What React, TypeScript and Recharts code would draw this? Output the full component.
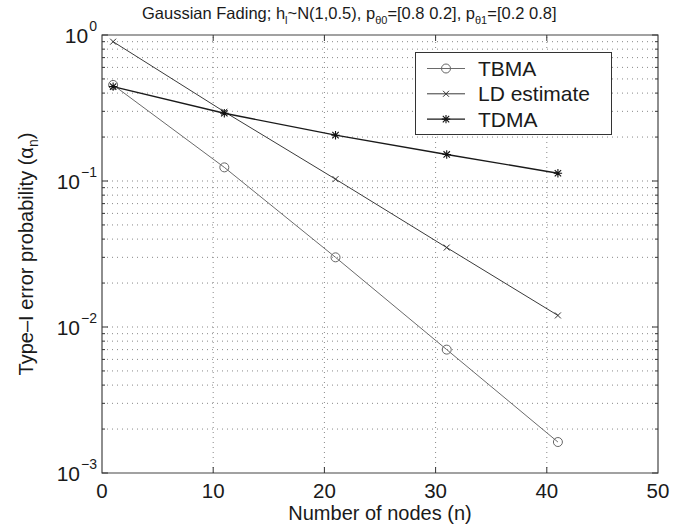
import { Legend, Line, LineChart, ReferenceArea, ReferenceLine, XAxis, YAxis } from "recharts";

// Gaussian fading, type-I error probability vs number of nodes
const nodes = [1, 11, 21, 31, 41];
const tbma = [0.455, 0.124, 0.03, 0.007, 0.00163];
const ldEstimate = [0.9, 0.298, 0.103, 0.035, 0.012];
const tdma = [0.443, 0.291, 0.206, 0.152, 0.113];

const seriesNames = ["TBMA", "LD estimate", "TDMA"];

const xTicks = [0, 10, 20, 30, 40, 50];
const xGrid = [10, 20, 30, 40];
const yMajorTicks = [0.001, 0.01, 0.1, 1];
const yMajorExps = ["\u22123", "\u22122", "\u22121", "0"];
const yMinorTicks = [
  0.002, 0.003, 0.004, 0.005, 0.006, 0.007, 0.008, 0.009,
  0.02, 0.03, 0.04, 0.05, 0.06, 0.07, 0.08, 0.09,
  0.2, 0.3, 0.4, 0.5, 0.6, 0.7, 0.8, 0.9,
];

const data = nodes.map((n, i) => ({ n, tbma: tbma[i], ld: ldEstimate[i], tdma: tdma[i] }));

const W = 696;
const H = 529;
const MARGIN = { top: 35, right: 38, bottom: 6, left: 42 };
const Y_AXIS_W = 60;
const X_AXIS_H = 50;
const PLOT_L = MARGIN.left + Y_AXIS_W; // 102
const PLOT_R = W - MARGIN.right; // 658
const PLOT_T = MARGIN.top; // 35
const PLOT_B = H - MARGIN.bottom - X_AXIS_H; // 473
const FONT = "'Liberation Sans', Arial, Helvetica, sans-serif";
const INK = "#1a1a1a";

function CircleMark({ cx, cy }: { cx: number; cy: number }) {
  return <circle cx={cx} cy={cy} r={4.5} fill="none" stroke="#666" strokeWidth={1} />;
}

function CrossMark({ cx, cy }: { cx: number; cy: number }) {
  const s = 3;
  return (
    <path
      d={`M${cx - s},${cy - s}L${cx + s},${cy + s}M${cx - s},${cy + s}L${cx + s},${cy - s}`}
      stroke="#333"
      strokeWidth={1}
    />
  );
}

function StarMark({ cx, cy }: { cx: number; cy: number }) {
  const s = 3.2;
  const p = 4.2;
  return (
    <path
      d={`M${cx - s},${cy - s}L${cx + s},${cy + s}M${cx - s},${cy + s}L${cx + s},${cy - s}M${cx - p},${cy}L${cx + p},${cy}M${cx},${cy - p}L${cx},${cy + p}`}
      stroke="#111"
      strokeWidth={1.1}
    />
  );
}

const series = [
  { key: "tbma", name: seriesNames[0], stroke: "#6a6a6a", width: 1, Mark: CircleMark },
  { key: "ld", name: seriesNames[1], stroke: "#3a3a3a", width: 1, Mark: CrossMark },
  { key: "tdma", name: seriesNames[2], stroke: "#1a1a1a", width: 1.4, Mark: StarMark },
];

function XTick({ x, payload }: any) {
  const v = payload.value as number;
  const inner = v > 0 && v < 50;
  return (
    <g>
      {inner && <line x1={x} x2={x} y1={PLOT_B} y2={PLOT_B - 6} stroke="#333" />}
      {inner && <line x1={x} x2={x} y1={PLOT_T} y2={PLOT_T + 6} stroke="#333" />}
      <text x={x} y={PLOT_B + 25} textAnchor="middle" fontSize={20.5} fontFamily={FONT} fill={INK}>
        {v}
      </text>
    </g>
  );
}

function YTick({ y, payload }: any) {
  const v = payload.value as number;
  const i = yMajorTicks.indexOf(v);
  const len = i >= 0 ? 6 : 3;
  return (
    <g>
      <line x1={PLOT_L} x2={PLOT_L + len} y1={y} y2={y} stroke="#333" />
      <line x1={PLOT_R - len} x2={PLOT_R} y1={y} y2={y} stroke="#333" />
      {i >= 0 && (
        <text x={97} y={y + 8} textAnchor="end" fontFamily={FONT} fill={INK} fontSize={21}>
          10
          <tspan dx={1} dy={-12} fontSize={14}>
            {yMajorExps[i]}
          </tspan>
        </text>
      )}
    </g>
  );
}

// legend drawn in series order (the payload comes back sorted by name)
function LegendBox() {
  return (
    <svg width={197} height={83} style={{ display: "block" }}>
      <rect x={0.5} y={0.5} width={196} height={82} fill="#fff" stroke="#333" strokeWidth={1} />
      {series.map((s, i) => {
        const cy = 16.5 + i * 25.3;
        const M = s.Mark;
        return (
          <g key={s.key}>
            <line x1={12} x2={50} y1={cy} y2={cy} stroke={s.stroke} strokeWidth={s.width} />
            <M cx={31} cy={cy} />
            <text x={63} y={cy + 7.5} fontSize={21} fontFamily={FONT} fill={INK}>
              {s.name}
            </text>
          </g>
        );
      })}
    </svg>
  );
}

export default function App() {
  return (
    <div style={{ position: "absolute", left: 0, top: 0, width: W, height: H, background: "#fff" }}>
      <LineChart width={W} height={H} data={data} margin={MARGIN}>
        {xGrid.map((v) => (
          <ReferenceLine key={`gx-${v}`} x={v} stroke="#888" strokeDasharray="1 4" />
        ))}
        {[...yMinorTicks, 0.01, 0.1].map((v) => (
          <ReferenceLine key={`gy-${v}`} y={v} stroke="#888" strokeDasharray="1 4" />
        ))}
        <ReferenceArea x1={0} x2={50} y1={0.001} y2={1} fill="none" stroke="#444" strokeWidth={1.2} />
        <XAxis
          dataKey="n"
          type="number"
          domain={[0, 50]}
          ticks={xTicks}
          interval={0}
          tick={<XTick />}
          tickSize={0}
          axisLine={false}
          tickLine={false}
          height={X_AXIS_H}
        />
        <YAxis
          type="number"
          scale="log"
          domain={[0.001, 1]}
          allowDataOverflow
          ticks={[...yMajorTicks, ...yMinorTicks]}
          interval={0}
          tick={<YTick />}
          tickSize={0}
          axisLine={false}
          tickLine={false}
          width={Y_AXIS_W}
        />
        {series.map((s) => (
          <Line
            key={s.key}
            dataKey={s.key}
            name={s.name}
            type="linear"
            stroke={s.stroke}
            strokeWidth={s.width}
            dot={(p: any) => <s.Mark key={`${s.key}-${p.index}`} cx={p.cx} cy={p.cy} />}
            activeDot={false}
            isAnimationActive={false}
          />
        ))}
        <Legend
          layout="horizontal"
          verticalAlign="middle"
          align="center"
          content={<LegendBox />}
          wrapperStyle={{ position: "absolute", left: 415, top: 52, width: 197, height: 83 }}
        />
        <text x={142} y={19} fontSize={16.5} fontFamily={FONT} fill={INK}>
          Gaussian Fading; h
          <tspan dy={5} fontSize={11}>l</tspan>
          <tspan dy={-5}>~N(1,0.5), p</tspan>
          <tspan dy={5} fontSize={11}>θ0</tspan>
          <tspan dy={-5}>=[0.8 0.2], p</tspan>
          <tspan dy={5} fontSize={11}>θ1</tspan>
          <tspan dy={-5}>=[0.2 0.8]</tspan>
        </text>
        <text x={380} y={520} textAnchor="middle" fontSize={20} fontFamily={FONT} fill={INK}>
          Number of nodes (n)
        </text>
        <text
          x={33}
          y={254}
          transform="rotate(-90 33 254)"
          textAnchor="middle"
          fontSize={20}
          fontFamily={FONT}
          fill={INK}
        >
          Type–I error probability (α
          <tspan dy={5} fontSize={14}>n</tspan>
          <tspan dy={-5}>)</tspan>
        </text>
      </LineChart>
    </div>
  );
}
